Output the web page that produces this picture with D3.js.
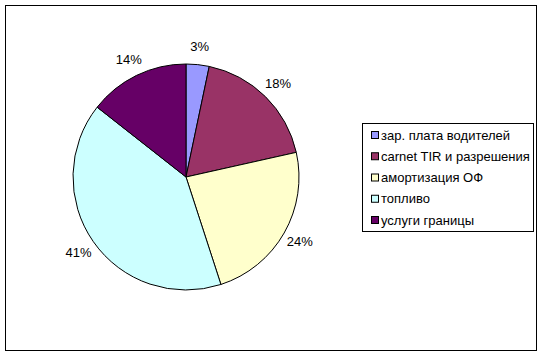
<!DOCTYPE html>
<html>
<head>
<meta charset="utf-8">
<script src="https://cdn.jsdelivr.net/npm/d3@7"></script>
<style>
  body { margin: 0; background: #fff; }
  text { font-family: "Liberation Sans", Arial, sans-serif; font-size: 13px; fill: #000; }
</style>
</head>
<body>
<script>
// chart data
var categories = ["зар. плата водителей", "carnet TIR и разрешения", "амортизация ОФ", "топливо", "услуги границы"];
var values = [3.3, 18.2, 23.5, 40.6, 14.4];
var labels = ["3%", "18%", "24%", "41%", "14%"];
var colors = ["#9999FF", "#993366", "#FFFFCC", "#CCFFFF", "#660066"];

var width = 543, height = 356;

let svg = d3.select("body").append("svg")
    .attr("width", width)
    .attr("height", height);

// outer frame
svg.append("rect")
    .attr("x", 5.5).attr("y", 5.5)
    .attr("width", 531).attr("height", 345)
    .attr("fill", "#fff")
    .attr("stroke", "#000")
    .attr("stroke-width", 1);

var cx = 186, cy = 177, radius = 113;

var pie = d3.pie().sort(null).value(function(d) { return d; });
var arc = d3.arc().innerRadius(0).outerRadius(radius);
var labelArc = d3.arc().innerRadius(131).outerRadius(131);

var arcs = pie(values);

let g = svg.append("g").attr("transform", "translate(" + cx + "," + cy + ")");

g.selectAll("path")
    .data(arcs)
    .enter()
    .append("path")
        .attr("d", arc)
        .attr("fill", function(d, i) { return colors[i]; })
        .attr("stroke", "#000")
        .attr("stroke-width", 1);

g.selectAll(".lbl")
    .data(arcs)
    .enter()
    .append("text")
        .attr("class", "lbl")
        .attr("transform", function(d) { return "translate(" + labelArc.centroid(d) + ")"; })
        .attr("text-anchor", "middle")
        .attr("dy", "0.35em")
        .text(function(d, i) { return labels[i]; });

// legend
let legend = svg.append("g");
legend.append("rect")
    .attr("x", 362.5).attr("y", 123.5)
    .attr("width", 171).attr("height", 108)
    .attr("fill", "#fff")
    .attr("stroke", "#000");

var rowY = d3.scalePoint().domain(categories).range([135, 220]);

let items = legend.selectAll(".item")
    .data(categories)
    .enter()
    .append("g")
        .attr("class", "item")
        .attr("transform", function(d) { return "translate(0," + rowY(d) + ")"; });

items.append("rect")
    .attr("x", 371.5).attr("y", -3.5)
    .attr("width", 7).attr("height", 7)
    .attr("fill", function(d, i) { return colors[i]; })
    .attr("stroke", "#000");

items.append("text")
    .attr("x", 381)
    .attr("dy", "0.35em")
    .text(function(d) { return d; });
</script>
</body>
</html>
